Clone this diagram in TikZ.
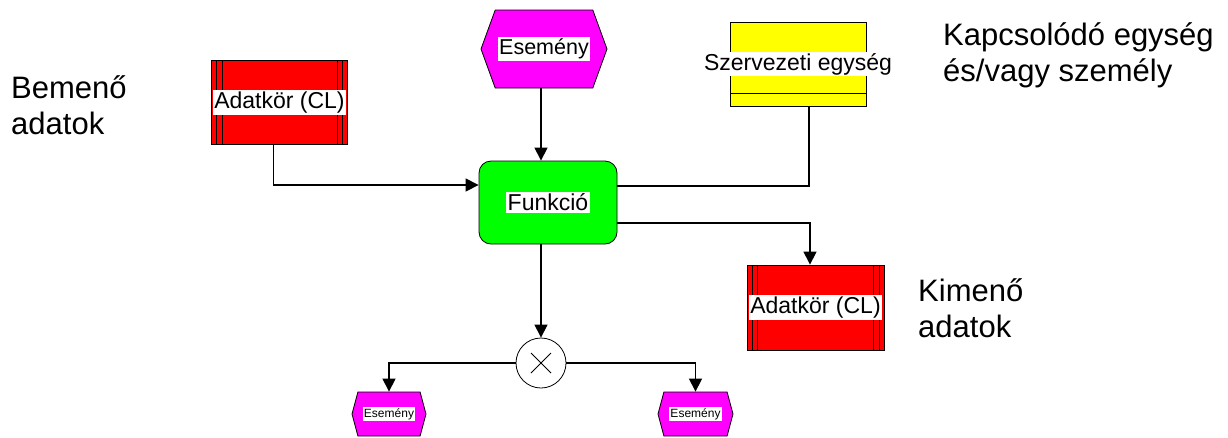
\documentclass[tikz,border=0pt]{standalone}
\usepackage{fontspec}
\setmainfont{Liberation Sans}
\usetikzlibrary{shapes.symbols,arrows.meta}
\definecolor{evlila}{RGB}{255,0,255}
\definecolor{adpiros}{RGB}{255,0,0}
\definecolor{szsarga}{RGB}{255,255,0}
\definecolor{fuzold}{RGB}{0,255,0}

\begin{document}
\begin{tikzpicture}[x=1pt,y=-1pt,
    vonal/.style={line width=1.2pt},
    nyil/.style={vonal,-{Triangle[length=13pt,width=13pt]}},
    keret/.style={draw,line width=0.8pt,inner sep=0pt},
    esemeny/.style={keret,fill=evlila,signal,signal to=west and east,signal pointer angle=140},
    adat/.style={keret,fill=adpiros,minimum width=136pt,minimum height=84pt,
        path picture={\foreach \d in {5,10.5}{
            \draw ([xshift=\d pt]path picture bounding box.north west) -- ([xshift=\d pt]path picture bounding box.south west);
            \draw ([xshift=-\d pt]path picture bounding box.north east) -- ([xshift=-\d pt]path picture bounding box.south east);}}},
    szervezet/.style={keret,fill=szsarga,minimum width=136pt,minimum height=84pt,
        path picture={\draw ([yshift=13pt]path picture bounding box.south west) -- ([yshift=13pt]path picture bounding box.south east);}},
    funkcio/.style={keret,fill=fuzold,rounded corners=12pt,minimum width=138pt,minimum height=83pt},
    xor/.style={keret,circle,minimum size=50pt,
        path picture={\draw[line width=1pt]
            ([shift={(-10pt,-10pt)}]path picture bounding box.center) -- ([shift={(10pt,10pt)}]path picture bounding box.center)
            ([shift={(-10pt,10pt)}]path picture bounding box.center) -- ([shift={(10pt,-10pt)}]path picture bounding box.center);}},
    felirat/.style={fill=white,inner sep=1.5pt,font=\fontsize{23}{27}\selectfont},
    szoveg/.style={align=left,anchor=base west,inner sep=0pt,font=\fontsize{31}{36}\selectfont}]
    \useasboundingbox (0,0) rectangle (1228,437);

    \node[esemeny,minimum width=126pt,minimum height=78pt] (Esemeny) at (544,49) {};
    \node[felirat,font=\fontsize{21.5}{25}\selectfont] (EsemenyT) at (Esemeny) {Esemény};
    \node[adat] (BeAdat) at (279.5,102.5) {};
    \node[felirat] (BeAdatT) at (BeAdat) {Adatkör (CL)};
    \node[szervezet] (Szervezet) at (798,64) {};
    \node[felirat] (SzervezetT) at (Szervezet) {Szervezeti egység};
    \node[funkcio] (Funkcio) at (548,202.5) {};
    \node[felirat] (FunkcioT) at (Funkcio) {Funkció};
    \node[adat,minimum width=137pt,minimum height=85pt] (KiAdat) at (815.5,307.5) {};
    \node[felirat] (KiAdatT) at (KiAdat) {Adatkör (CL)};
    \node[xor] (Xor) at (541,363) {};
    \node[esemeny,signal pointer angle=150,minimum width=74pt,minimum height=44pt] (Esemeny1) at (389,414) {};
    \node[felirat,inner sep=1pt,font=\fontsize{12}{14}\selectfont] (Esemeny1T) at (Esemeny1) {Esemény};
    \node[esemeny,signal pointer angle=150,minimum width=75pt,minimum height=44pt] (Esemeny2) at (695.5,414) {};
    \node[felirat,inner sep=1pt,font=\fontsize{12}{14}\selectfont] (Esemeny2T) at (Esemeny2) {Esemény};

    % base west = baseline of the last line
    \node[szoveg] (Bemeno) at (11,134) {Bemenő\\adatok};
    \node[szoveg] (Kapcsolodo) at (943,81) {Kapcsolódó egység\\és/vagy személy};
    \node[szoveg] (Kimeno) at (918,337) {Kimenő\\adatok};

    \draw[nyil] (Esemeny.south -| Xor) -- (Funkcio.north -| Xor);
    \draw[nyil] ([xshift=-6pt]BeAdat.south) |- ([yshift=17.5pt]Funkcio.west);
    \draw[vonal] ([xshift=11pt]Szervezet.south) |- ([yshift=16.5pt]Funkcio.east);
    \draw[nyil] ([yshift=-20.5pt]Funkcio.east) -| ([xshift=-5.5pt]KiAdat.north);
    \draw[nyil] (Funkcio.south -| Xor) -- (Xor.north);
    \draw[nyil] (Xor.west) -| (Esemeny1.north);
    \draw[nyil] (Xor.east) -| (Esemeny2.north);
\end{tikzpicture}
\end{document}
